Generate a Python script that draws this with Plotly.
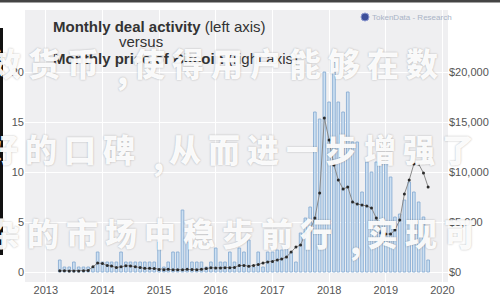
import plotly.graph_objects as go
import pandas as pd

# ---- data ----
months = pd.date_range("2013-04-01", "2019-10-01", freq="MS")

deals = [
    1.2, 0.5, 0.5, 1.0, 0.5, 0.5, 0.5, 0.5, 2.0,            # Apr-Dec 2013
    1.0, 1.0, 1.0, 1.0, 2.0, 1.0, 1.0, 1.0, 1.0, 1.0, 1.0, 1.0,  # 2014
    3.0, 0.5, 1.0, 2.0, 2.0, 6.2, 3.0, 1.0, 1.0, 1.0, 0.5, 1.0,  # 2015
    2.4, 1.0, 1.0, 2.0, 1.0, 2.4, 2.0, 3.2, 0.5, 2.0, 0.5, 2.0,  # 2016
    2.0, 2.2, 2.2, 2.5, 2.0, 1.0, 3.9, 5.4, 6.5, 16.0, 15.3, 20.0,  # 2017
    17.0, 21.0, 17.0, 16.0, 18.0, 13.0, 13.0, 8.0, 11.0, 10.0, 11.0, 11.0,  # 2018
    11.0, 9.5, 5.5, 5.8, 7.2, 9.0, 8.0, 7.0, 5.5, 1.2,      # Jan-Oct 2019
]

btc_price = [
    120, 120, 110, 95, 110, 125, 160, 520, 900,
    850, 650, 590, 460, 520, 620, 610, 530, 450, 365, 365, 340,
    250, 235, 270, 235, 235, 235, 280, 250, 235, 265, 350, 420,
    410, 405, 415, 430, 460, 640, 660, 580, 650, 750, 900, 1000,
    1050, 1200, 1300, 1500, 2000, 2500, 2700, 3900, 4200, 5400, 7900, 15400,
    13200, 10700, 9200, 8300, 8500, 7000, 6800, 6700, 6600, 6400, 5400, 3900,
    3800, 3800, 4200, 5200, 7800, 9200, 10800, 10800, 9900, 8500, 9500,
]

left_ticks = [0, 5, 10, 15, 20]
right_ticks = [0, 5000, 10000, 15000, 20000]
right_tick_labels = ["$0", "$5,000", "$10,000", "$15,000", "$20,000"]
year_ticks = [f"{y}-01-01" for y in range(2013, 2021)]
year_labels = [str(y) for y in range(2013, 2021)]

watermark_lines = [
    "效货币,使得用户能够在数",
    "好的口碑,从而进一步增强了",
    "杂的市场中稳步前行,实现可",
]

# ---- figure ----
W, H = 500, 300
L, R, T, B = 25, 52, 10, 18
pw, ph = W - L - R, H - T - B


def px(x):
    return (x - L) / pw


def py(y):
    return (H - B - y) / ph


fig = go.Figure()
fig.add_trace(go.Bar(
    x=months, y=deals, name="Deals",
    marker=dict(color="#cde0f2", line=dict(color="#8aaed4", width=0.9)),
    width=1000 * 3600 * 24 * 17,
))
fig.add_trace(go.Scatter(
    x=months, y=btc_price, yaxis="y2", mode="lines+markers", name="BTC",
    line=dict(color="#8a8a8a", width=1),
    marker=dict(color="#2b2b2b", size=3),
))

font_family = "Liberation Sans, Arial, sans-serif"
fig.update_layout(
    width=W, height=H, autosize=False,
    margin=dict(l=L, r=R, t=T, b=B, pad=0, autoexpand=False),
    paper_bgcolor="white",
    plot_bgcolor="#efeff1",
    showlegend=False,
    font=dict(family=font_family, size=11, color="#555"),
    xaxis=dict(
        range=["2012-08-20", "2020-02-06"], automargin=False,
        tickvals=year_ticks, ticktext=year_labels,
        showgrid=True, gridcolor="#ffffff", gridwidth=1,
        zeroline=False, ticks="", tickfont=dict(size=11, color="#555"),
    ),
    yaxis=dict(
        range=[-1.0, 26.2], tickvals=left_ticks, automargin=False,
        showgrid=True, gridcolor="#ffffff", gridwidth=1,
        zeroline=False, ticks="", tickfont=dict(size=11, color="#555"),
    ),
    yaxis2=dict(
        range=[-1000, 26200], overlaying="y", side="right", automargin=False,
        tickvals=right_ticks, ticktext=right_tick_labels,
        showgrid=False, zeroline=False, ticks="",
        tickfont=dict(size=11, color="#555"),
    ),
)

ann = []
# title
ann.append(dict(x=px(52), y=py(26), xref="paper", yref="paper", xanchor="left", yanchor="middle",
                showarrow=False, text="<b>Monthly deal activity</b> (left axis)", borderpad=0,
                font=dict(family=font_family, size=15, color="#333")))
ann.append(dict(x=px(118), y=py(41), xref="paper", yref="paper", xanchor="left", yanchor="middle",
                showarrow=False, text="versus", borderpad=0,
                font=dict(family=font_family, size=15, color="#333")))
ann.append(dict(x=px(52), y=py(58), xref="paper", yref="paper", xanchor="left", yanchor="middle",
                showarrow=False, text="<b>Monthly price of Bitcoin</b> (right axis)", borderpad=0,
                font=dict(family=font_family, size=15, color="#333")))
# logo text
ann.append(dict(x=px(371), y=py(17), xref="paper", yref="paper", xanchor="left", yanchor="middle",
                showarrow=False, text="TokenData - Research", borderpad=0,
                font=dict(family=font_family, size=8, color="#a9b3c6")))

# watermark: one annotation per character, spaced like the reference
line_start = [5, 2, 4]
line_y = [62, 148, 232]
pitch, comma_pitch = 39, 27
for txt, x0, yy in zip(watermark_lines, line_start, line_y):
    xc = x0
    for ch in txt:
        is_comma = ch in ",，"
        ann.append(dict(x=px(xc), y=py(yy + (8 if is_comma else 0)), xref="paper", yref="paper",
                        xanchor="center", yanchor="middle", showarrow=False, text=ch,
                        font=dict(family="Noto Sans CJK SC", size=32, color="rgba(255,255,255,0.95)",
                                  weight=900, shadow="0px 0px 2px rgba(0,0,0,0.3)")))
        xc += comma_pitch if is_comma else pitch
fig.update_layout(annotations=ann)

shapes = [
    dict(type="circle", xref="paper", yref="paper", x0=px(361), x1=px(369), y0=py(21), y1=py(13),
         fillcolor="#3d4f9a", line=dict(color="#8e9ad0", width=1)),
    dict(type="rect", xref="paper", yref="paper", x0=px(0), x1=px(500), y0=py(0), y1=py(2.5),
         fillcolor="#444", line=dict(width=0)),
    dict(type="rect", xref="paper", yref="paper", x0=px(0), x1=px(3), y0=py(28), y1=py(255),
         fillcolor="#111", line=dict(width=0)),
]
fig.update_layout(shapes=shapes)

fig.write_html(
    "out.html",
    config={"displayModeBar": False},
    post_script="document.body.style.margin='0';document.body.style.overflow='hidden';",
)
